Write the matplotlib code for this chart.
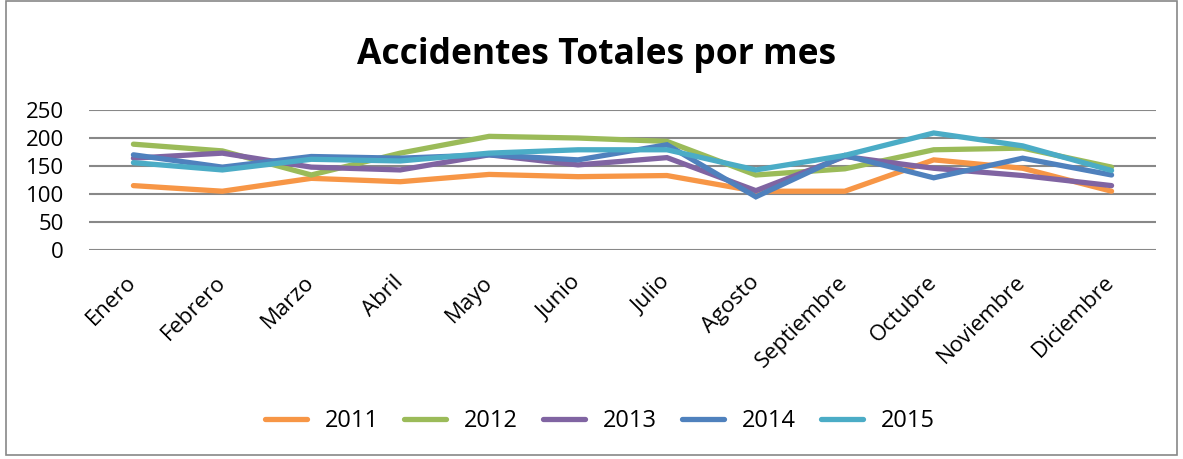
import matplotlib.pyplot as plt
from matplotlib.patches import Rectangle

# Data
meses = ["Enero", "Febrero", "Marzo", "Abril", "Mayo", "Junio", "Julio",
         "Agosto", "Septiembre", "Octubre", "Noviembre", "Diciembre"]
anios = ["2011", "2012", "2013", "2014", "2015"]
v2011 = [115, 105, 128, 122, 135, 131, 133, 105, 105, 161, 146, 105]
v2012 = [189, 177, 134, 173, 203, 200, 194, 134, 145, 179, 182, 148]
v2013 = [164, 173, 148, 143, 170, 152, 165, 106, 167, 146, 133, 115]
v2014 = [170, 148, 167, 164, 170, 161, 188, 95, 169, 129, 164, 134]
v2015 = [156, 143, 162, 159, 173, 179, 179, 143, 169, 209, 186, 142]
colores = ["#F79646", "#9BBB59", "#8064A2", "#4F81BD", "#4BACC6"]

plt.rcParams["font.family"] = ["Open Sans", "DejaVu Sans"]

fig = plt.figure(figsize=(11.83, 4.59), dpi=100)
ax = fig.add_axes([0.0752, 0.4553, 0.902, 0.305])

series = [v2011, v2012, v2013, v2014, v2015]
for nombre, valores, color in zip(anios, series, colores):
    ax.plot(range(len(meses)), valores, color=color, linewidth=3.8,
            label=nombre, solid_capstyle="round", solid_joinstyle="miter")

ax.set_xlim(-0.5, len(meses) - 0.5)
ax.set_ylim(0, 250)
ax.set_yticks([0, 50, 100, 150, 200, 250])
ax.set_xticks(range(len(meses)))
ax.set_xticklabels(meses, rotation=45, ha="right", va="center",
                   rotation_mode="anchor")
ax.tick_params(axis="both", length=0, labelsize=16)
ax.tick_params(axis="x", pad=21)
ax.tick_params(axis="y", pad=18)
ax.grid(axis="y", color="#888888", linewidth=1.5)
ax.set_axisbelow(True)
for s in ax.spines.values():
    s.set_visible(False)

fig.text(0.504, 0.88, "Accidentes Totales por mes", ha="center", va="center",
         fontsize=25.5, fontweight="bold")

fig.legend(loc="center", bbox_to_anchor=(0.507, 0.083), ncol=5, frameon=False,
           fontsize=17, handlelength=1.8, handletextpad=0.75, columnspacing=1.05)

fig.patches.append(Rectangle((0.005, 0.008), 0.99, 0.99, transform=fig.transFigure,
                             fill=False, edgecolor="#888888", linewidth=1.2))

fig.savefig("out.png", dpi=100)
